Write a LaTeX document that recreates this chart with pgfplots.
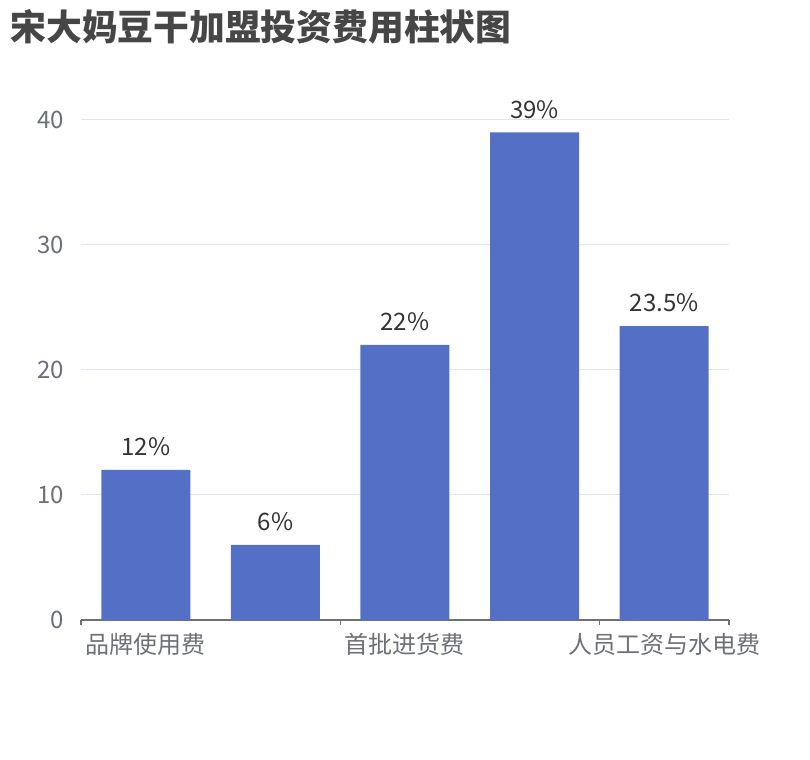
\documentclass[border=0pt]{standalone}
\usepackage{fontspec}
\setmainfont{Noto Sans CJK SC}
\usepackage{pgfplots}
\pgfplotsset{compat=1.18}
\definecolor{barblue}{HTML}{5470C6}
\definecolor{axisgray}{HTML}{6E7079}
\definecolor{gridgray}{HTML}{E0E6F1}
\definecolor{titlegray}{HTML}{464646}
\definecolor{labelgray}{HTML}{333333}
\begin{document}
\begin{tikzpicture}[x=1pt,y=1pt]
\path (0,0) rectangle (405,380);
\node[anchor=west, inner sep=0, text=titlegray,
  font=\bfseries\fontsize{17.9}{20}\selectfont] at (5,366.5) {宋大妈豆干加盟投资费用柱状图};
\begin{axis}[%
at={(40.5pt,70pt)},
anchor=south west,
width=324pt,
height=250pt,
scale only axis,
ybar,
bar width=44.5pt,
xmin=-0.5, xmax=4.5,
ymin=0, ymax=40,
enlargelimits=false,
axis x line*=bottom,
axis y line*=left,
x axis line style={draw=axisgray, line width=0.6pt},
y axis line style={draw=none},
xtick={0,2,4},
xticklabels={品牌使用费,首批进货费,人员工资与水电费},
minor xtick={-0.5,1.5,3.5,4.5},
major tick length=0pt,
minor tick length=2.5pt,
tick align=outside,
minor x tick style={draw=axisgray, line width=0.6pt},
ytick={0,10,20,30,40},
major y tick style={draw=none},
ymajorgrids,
grid style={gridgray, line width=0.5pt},
tick label style={text=axisgray, font=\fontsize{12}{14}\selectfont},
x tick label style={yshift=-3pt},
y tick label style={xshift=-5pt},
/pgf/number format/assume math mode=true,
point meta=explicit symbolic,
nodes near coords,
nodes near coords style={text=labelgray, font=\fontsize{12}{14}\selectfont, anchor=south, yshift=3.5pt},
]
\addplot [fill=barblue, draw=none] coordinates {
(0,12) [12\%]
(1,6) [6\%]
(2,22) [22\%]
(3,39) [39\%]
(4,23.5) [23.5\%]
};
\end{axis}
\end{tikzpicture}
\end{document}
